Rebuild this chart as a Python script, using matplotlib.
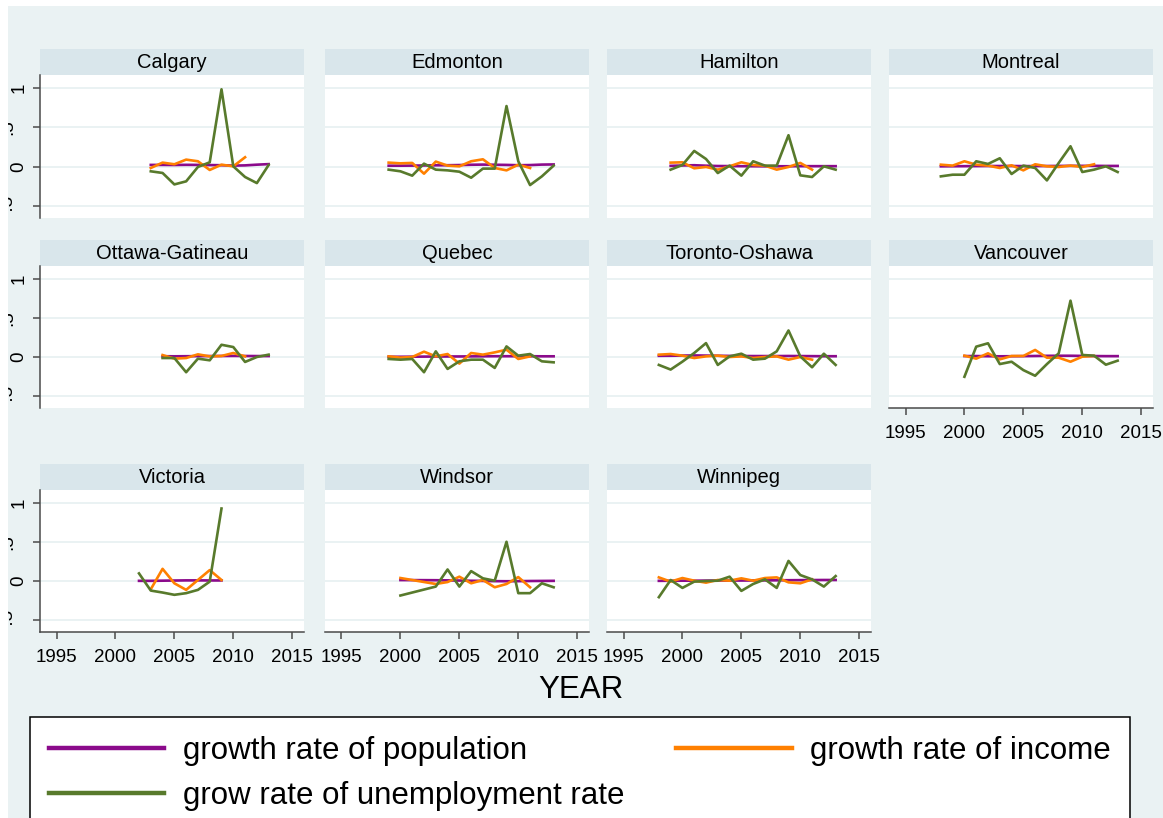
import numpy as np
import matplotlib
matplotlib.use("Agg")
import matplotlib.pyplot as plt
import matplotlib.transforms as mtransforms
from matplotlib.patches import Rectangle
from matplotlib.lines import Line2D

plt.rcParams["font.family"] = ["Liberation Sans", "DejaVu Sans"]

nan = np.nan

# growth rates by census metropolitan area
calgary_years = list(range(2003, 2014))
calgary_pop = [0.022, 0.022, 0.021, 0.023, 0.022, 0.020, 0.018, 0.013, 0.016, 0.025, 0.032]
calgary_inc = [-0.017, 0.051, 0.030, 0.089, 0.068, -0.042, 0.025, 0.004, 0.119]
calgary_unemp = [-0.059, -0.080, -0.225, -0.186, -0.004, 0.055, 0.979, 0.004, -0.131, -0.208, 0.021]

edmonton_years = list(range(1999, 2014))
edmonton_pop = [0.012, 0.012, 0.013, 0.015, 0.017, 0.018, 0.020, 0.024, 0.026, 0.024, 0.022, 0.018, 0.020, 0.026, 0.028]
edmonton_inc = [0.051, 0.042, 0.047, -0.089, 0.064, 0.013, 0.004, 0.068, 0.093, -0.017, -0.047, 0.025, -0.017]
edmonton_unemp = [-0.038, -0.059, -0.114, 0.038, -0.038, -0.047, -0.064, -0.140, -0.025, -0.025, 0.767, 0.068, -0.233, -0.123, 0.013]

hamilton_years = list(range(1999, 2014))
hamilton_pop = [0.010, 0.015, 0.018, 0.012, 0.008, 0.007, 0.006, 0.005, 0.004, 0.005, 0.005, 0.006, 0.006, 0.006, 0.006]
hamilton_inc = [0.051, 0.055, -0.021, -0.004, -0.038, 0.004, 0.055, 0.021, 0.013, -0.038, -0.004, 0.047, -0.038]
hamilton_unemp = [-0.038, 0.021, 0.199, 0.097, -0.081, 0.013, -0.114, 0.068, 0.013, 0.013, 0.398, -0.110, -0.131, 0.004, -0.038]

montreal_years = list(range(1998, 2014))
montreal_pop = [0.004, 0.005, 0.006, 0.007, 0.008, 0.008, 0.008, 0.007, 0.007, 0.008, 0.009, 0.010, 0.010, 0.010, 0.009, 0.009]
montreal_inc = [0.025, 0.013, 0.068, 0.025, 0.013, -0.017, 0.017, -0.047, 0.030, 0.004, -0.004, 0.013, -0.004, 0.030]
montreal_unemp = [-0.123, -0.102, -0.102, 0.068, 0.034, 0.106, -0.093, 0.013, -0.017, -0.174, 0.047, 0.258, -0.068, -0.038, 0.004, -0.068]

ottawa_years = list(range(2004, 2014))
ottawa_pop = [0.010, 0.009, 0.010, 0.011, 0.012, 0.013, 0.014, 0.013, 0.012, 0.012]
ottawa_inc = [0.025, -0.021, -0.013, 0.034, 0.008, 0.013, 0.051, 0.008]
ottawa_unemp = [-0.013, -0.013, -0.194, -0.021, -0.042, 0.156, 0.127, -0.063, 0.000, 0.030]

quebec_years = list(range(1999, 2014))
quebec_pop = [0.003, 0.003, 0.004, 0.005, 0.006, 0.007, 0.007, 0.008, 0.009, 0.010, 0.010, 0.010, 0.010, 0.009, 0.009]
quebec_inc = [0.008, -0.008, 0.000, 0.068, 0.008, 0.038, -0.084, 0.051, 0.030, 0.059, 0.093, -0.025, 0.008]
quebec_unemp = [-0.025, -0.034, -0.025, -0.194, 0.072, -0.152, -0.055, -0.034, -0.034, -0.139, 0.135, 0.017, 0.038, -0.055, -0.068]

toronto_years = list(range(1998, 2014))
toronto_pop = [0.015, 0.016, 0.018, 0.020, 0.018, 0.016, 0.014, 0.013, 0.012, 0.012, 0.012, 0.013, 0.012, 0.011, 0.010, 0.010]
toronto_inc = [0.030, 0.038, 0.017, -0.013, 0.008, 0.017, 0.000, 0.008, -0.013, 0.000, 0.008, -0.034, 0.000, -0.034]
toronto_unemp = [-0.101, -0.160, -0.059, 0.051, 0.177, -0.101, 0.008, 0.042, -0.034, -0.021, 0.072, 0.338, 0.008, -0.131, 0.042, -0.101]

vancouver_years = list(range(2000, 2014))
vancouver_pop = [0.012, 0.012, 0.010, 0.009, 0.010, 0.011, 0.013, 0.015, 0.016, 0.016, 0.014, 0.012, 0.011, 0.011]
vancouver_inc = [0.017, -0.021, 0.047, -0.030, 0.013, 0.013, 0.090, -0.009, -0.009, -0.060, 0.004, 0.013]
vancouver_unemp = [-0.252, 0.132, 0.175, -0.090, -0.060, -0.167, -0.239, -0.090, 0.047, 0.718, 0.026, 0.017, -0.098, -0.047]

victoria_years = list(range(2002, 2010))
victoria_pop = [0.002, 0.002, 0.004, 0.006, 0.008, 0.008, 0.007, 0.007]
victoria_inc = [nan, -0.105, 0.155, -0.029, -0.113, 0.013, 0.139, 0.013]
victoria_unemp = [0.097, -0.122, -0.147, -0.176, -0.155, -0.113, -0.008, 0.924]

windsor_years = [2000] + list(range(2003, 2014))
windsor_pop = [0.012, 0.010, 0.008, 0.006, 0.003, 0.001, -0.002, -0.003, -0.002, 0.000, 0.001, 0.002]
windsor_inc = [0.038, -0.038, -0.013, 0.055, -0.029, 0.013, -0.080, -0.038, 0.050, -0.080]
windsor_unemp = [-0.185, -0.071, 0.147, -0.071, 0.126, 0.034, 0.004, 0.500, -0.155, -0.155, -0.029, -0.080]

winnipeg_years = list(range(1998, 2014))
winnipeg_pop = [0.002, 0.003, 0.004, 0.004, 0.005, 0.006, 0.006, 0.006, 0.007, 0.008, 0.009, 0.010, 0.011, 0.012, 0.013, 0.013]
winnipeg_inc = [0.046, -0.008, 0.038, 0.004, -0.021, 0.013, 0.004, 0.034, 0.004, 0.038, 0.046, -0.017, -0.029, 0.021]
winnipeg_unemp = [-0.206, 0.013, -0.088, -0.008, 0.000, 0.004, 0.055, -0.126, -0.038, 0.021, -0.088, 0.256, 0.076, 0.021, -0.071, 0.063]

cities = ["Calgary", "Edmonton", "Hamilton", "Montreal", "Ottawa-Gatineau", "Quebec",
          "Toronto-Oshawa", "Vancouver", "Victoria", "Windsor", "Winnipeg"]
series = {
    "Calgary": (calgary_years, calgary_pop, calgary_inc, calgary_unemp),
    "Edmonton": (edmonton_years, edmonton_pop, edmonton_inc, edmonton_unemp),
    "Hamilton": (hamilton_years, hamilton_pop, hamilton_inc, hamilton_unemp),
    "Montreal": (montreal_years, montreal_pop, montreal_inc, montreal_unemp),
    "Ottawa-Gatineau": (ottawa_years, ottawa_pop, ottawa_inc, ottawa_unemp),
    "Quebec": (quebec_years, quebec_pop, quebec_inc, quebec_unemp),
    "Toronto-Oshawa": (toronto_years, toronto_pop, toronto_inc, toronto_unemp),
    "Vancouver": (vancouver_years, vancouver_pop, vancouver_inc, vancouver_unemp),
    "Victoria": (victoria_years, victoria_pop, victoria_inc, victoria_unemp),
    "Windsor": (windsor_years, windsor_pop, windsor_inc, windsor_unemp),
    "Winnipeg": (winnipeg_years, winnipeg_pop, winnipeg_inc, winnipeg_unemp),
}
labels = ["growth rate of population", "growth rate of income", "grow rate of unemployment rate"]
y_ticks = [-0.5, 0, 0.5, 1]
x_ticks = [1995, 2000, 2005, 2010, 2015]

BG = "#eaf2f3"
STRIP = "#d9e6eb"
GRID = "#eaf2f3"
AXIS = "#4a4a4a"
colors = ["#8b0a8b", "#ff8000", "#587a2c"]

W, H = 1163, 818
col_left = [40, 325, 607, 889]
col_width = 264
row_span = [(75, 218), (266, 408), (490, 632)]
strip_h = 26


def main():
    fig = plt.figure(figsize=(W / 100, H / 100), dpi=100, facecolor=BG)

    for i, name in enumerate(cities):
        r, c = divmod(i, 4)
        top, bottom = row_span[r]
        ax = fig.add_axes([col_left[c] / W, 1 - bottom / H, col_width / W, (bottom - top) / H])
        ax.set_facecolor("white")
        for y in y_ticks:
            ax.axhline(y, color=GRID, lw=1.4, zorder=0)

        years, pop, inc, unemp = series[name]
        ax.plot(years, pop, color=colors[0], lw=1.9)
        ax.plot(years[:len(inc)], inc, color=colors[1], lw=1.9)
        ax.plot(years, unemp, color=colors[2], lw=1.9)

        ax.set_xlim(1993.6, 2016.0)
        ax.set_ylim(-0.65, 1.16)

        for s in ax.spines.values():
            s.set_visible(False)
        has_x = r == 2 or (r == 1 and c == 3)
        has_y = c == 0

        ax.set_xticks(x_ticks)
        if has_x:
            ax.spines["bottom"].set_visible(True)
            ax.spines["bottom"].set_color(AXIS)
            ax.spines["bottom"].set_linewidth(1.1)
            ax.tick_params(axis="x", length=5, width=1.1, color=AXIS, labelsize=13.5, pad=7)
        else:
            ax.tick_params(axis="x", length=0, labelbottom=False)

        ax.set_yticks(y_ticks)
        if has_y:
            ax.spines["left"].set_visible(True)
            ax.spines["left"].set_color(AXIS)
            ax.spines["left"].set_linewidth(1.1)
            ax.set_yticklabels(["", "0", "", "1"], rotation=90, va="center")
            ax.tick_params(axis="y", length=5, width=1.1, color=AXIS, labelsize=13.5, pad=4)
            # the half-unit labels sit further out, against the page edge
            trans = mtransforms.blended_transform_factory(fig.transFigure, ax.transData)
            for y, lab in [(0.5, ".5"), (-0.5, "-.5")]:
                ax.text(8 / W, y, lab, transform=trans, rotation=90, ha="center",
                        va="center", fontsize=13.5, clip_on=False)
        else:
            ax.tick_params(axis="y", length=0, labelleft=False)

        # panel header
        h = strip_h / (bottom - top)
        ax.add_patch(Rectangle((0, 1), 1, h, transform=ax.transAxes, facecolor=STRIP,
                               edgecolor="none", clip_on=False))
        ax.text(0.5, 1 + h / 2, name, transform=ax.transAxes, ha="center", va="center",
                fontsize=14.5)

    # blank page margin on the left and top
    fig.patches.append(Rectangle((0, 0), 8 / W, 1, transform=fig.transFigure,
                                 facecolor="white", edgecolor="none", zorder=10))
    fig.patches.append(Rectangle((0, 1 - 6 / H), 1, 6 / H, transform=fig.transFigure,
                                 facecolor="white", edgecolor="none", zorder=10))

    fig.text(581 / W, 1 - 690 / H, "YEAR", ha="center", va="center", fontsize=22.5)

    handles = [Line2D([], [], color=col, lw=3.2) for col in colors]
    order = [0, 2, 1]
    leg = fig.legend([handles[k] for k in order], [labels[k] for k in order],
                     loc="upper left", bbox_to_anchor=(30 / W, 1 - 717 / H, 1100 / W, 0),
                     mode="expand", ncol=2, fontsize=22.5, frameon=True, fancybox=False,
                     handlelength=3.7, handletextpad=0.6, labelspacing=0.5,
                     borderpad=0.6, borderaxespad=0)
    leg.get_frame().set_edgecolor("black")
    leg.get_frame().set_linewidth(1.1)
    leg.get_frame().set_alpha(1)

    plt.savefig("out.png", dpi=100, facecolor=BG)
    plt.close()


if __name__ == "__main__":
    main()
